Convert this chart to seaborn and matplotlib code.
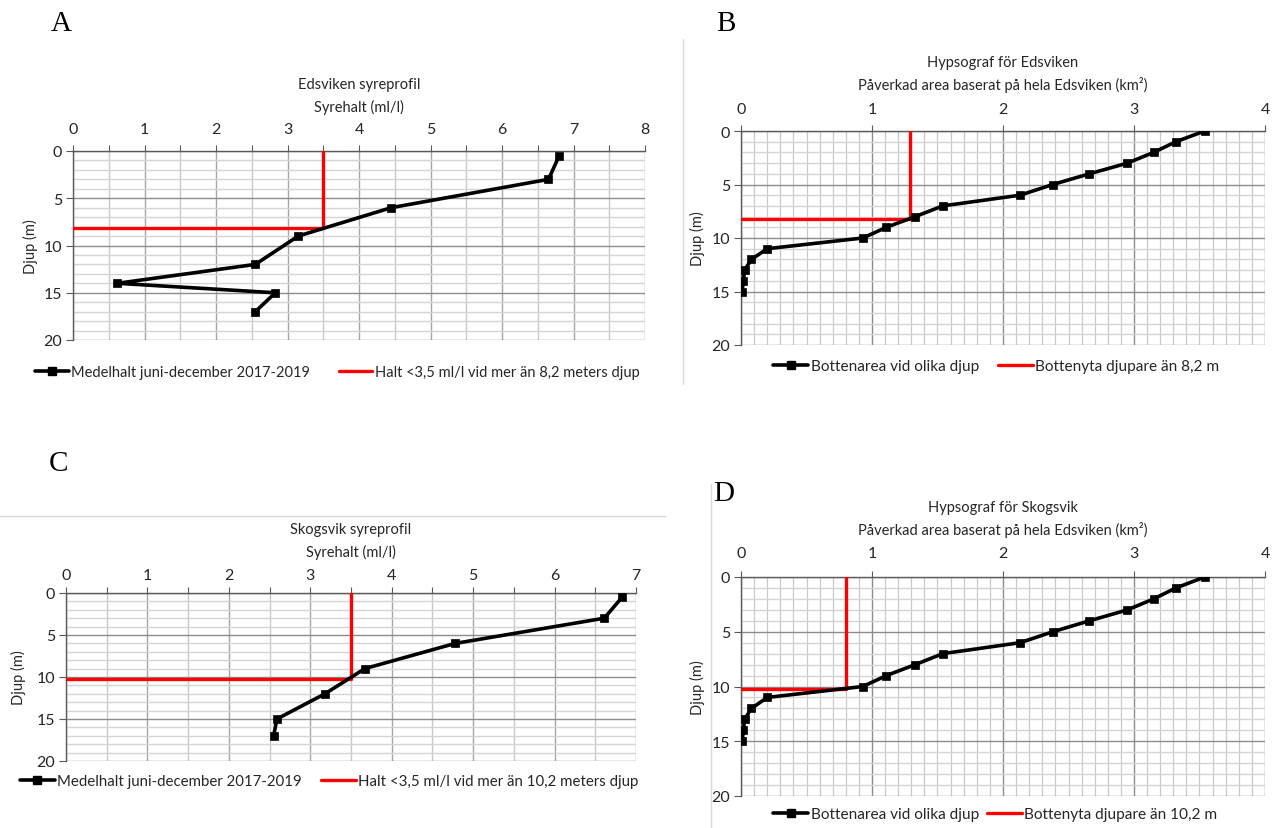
import seaborn as sns
import matplotlib.pyplot as plt
from matplotlib.lines import Line2D
from matplotlib.ticker import MultipleLocator

W, H = 1274, 829

# A: Edsviken syreprofil (syrehalt ml/l vs djup m)
eds_depth = [0.5, 3, 6, 9, 12, 14, 15, 17]
eds_oxygen = [6.8, 6.65, 4.45, 3.15, 2.55, 0.62, 2.83, 2.55]

# C: Skogsvik syreprofil
sko_depth = [0.5, 3, 6, 9, 12, 15, 17]
sko_oxygen = [6.83, 6.61, 4.78, 3.67, 3.18, 2.59, 2.55]

# B / D: hypsograf (bottenarea km2 vs djup m)
hyps_depth = [0, 1, 2, 3, 4, 5, 6, 7, 8, 9, 10, 11, 12, 13, 14, 15]
hyps_area = [3.54, 3.32, 3.15, 2.95, 2.66, 2.38, 2.13, 1.54, 1.33, 1.11,
             0.93, 0.20, 0.08, 0.027, 0.019, 0.008]

# red threshold lines
eds_limit = (3.5, 8.2)
eds_area_limit = (1.29, 8.2)
sko_limit = (3.5, 10.2)
sko_area_limit = (0.80, 10.2)

sns.set_theme(style='white')
plt.rcParams['font.family'] = ['Lato', 'DejaVu Sans']

TXT = '#262626'


def px(x, y):
    return x / W, 1 - y / H


def make_panel(fig, box, x, y, limit, xmax, xminor, oxygen_style, titles,
               title_ys, tick_pad, ylabel_x, legend_pos, labels, colspace,
               legend_size):
    l, t, r, b = box
    ax = fig.add_axes([l / W, 1 - b / H, (r - l) / W, (b - t) / H])
    sns.lineplot(x=x, y=y, sort=False, estimator=None, color='black',
                 lw=2.6, marker='s', markersize=6, markeredgecolor='black',
                 markeredgewidth=0.5, ax=ax, zorder=4)
    lx, ly = limit
    ax.plot([0, lx, lx], [ly, ly, 0], color='#ff0000', lw=2.4, zorder=3)

    ax.set_xlim(0, xmax)
    ax.set_ylim(20, 0)
    ax.xaxis.tick_top()
    ax.xaxis.set_major_locator(MultipleLocator(1))
    ax.xaxis.set_minor_locator(MultipleLocator(xminor))
    ax.yaxis.set_major_locator(MultipleLocator(5))
    ax.yaxis.set_minor_locator(MultipleLocator(1))

    if oxygen_style:
        ax.grid(which='major', axis='x', color='#a6a6a6', lw=1.0)
        ax.grid(which='minor', axis='x', color='#c8c8c8', lw=1.0)
        ax.tick_params(axis='x', which='minor', top=True, length=4,
                       width=0.8, color='#595959', direction='out')
    else:
        ax.grid(which='major', axis='x', color='#8c8c8c', lw=1.0)
        ax.grid(which='minor', axis='x', color='#c8c8c8', lw=0.9)
        ax.tick_params(axis='x', which='minor', top=False, length=0)
    ax.grid(which='major', axis='y', color='#8c8c8c', lw=1.0)
    ax.grid(which='minor', axis='y', color='#d4d4d4', lw=1.0)
    ax.set_axisbelow(True)

    ax.tick_params(axis='x', which='major', top=True, bottom=False,
                   length=4, width=0.8, color='#595959', direction='out',
                   pad=tick_pad, labelsize=11.5, labelcolor=TXT)
    ax.tick_params(axis='y', which='major', left=True, length=5, width=0.8,
                   color='#595959', direction='out', pad=3, labelsize=11.5,
                   labelcolor=TXT)
    ax.tick_params(axis='y', which='minor', left=False)

    for side in ['right', 'bottom']:
        ax.spines[side].set_visible(False)
    for side in ['left', 'top']:
        ax.spines[side].set_color('#595959')
        ax.spines[side].set_linewidth(1.0)
    ax.set_xlabel('')
    ax.set_ylabel('')

    cx = (l + r) / 2
    for txt, ty in zip(titles, title_ys):
        fig.text(*px(cx, ty), txt, ha='center', va='center', fontsize=10.5,
                 color=TXT)
    fig.text(*px(ylabel_x, (t + b) / 2), 'Djup (m)', rotation=90,
             ha='center', va='center', fontsize=10.5, color=TXT)

    handles = [
        Line2D([], [], color='black', lw=2.6, marker='s', markersize=6,
               label=labels[0]),
        Line2D([], [], color='#ff0000', lw=2.4, label=labels[1]),
    ]
    leg = ax.legend(handles=handles, loc='center left',
                    bbox_to_anchor=px(*legend_pos),
                    bbox_transform=fig.transFigure, ncol=2, frameon=False,
                    handlelength=2.3, handletextpad=0.15,
                    columnspacing=colspace, borderaxespad=0, borderpad=0,
                    prop={'size': legend_size})
    for t_ in leg.get_texts():
        t_.set_color(TXT)
    return ax


fig = plt.figure(figsize=(W / 100, H / 100), dpi=100)

make_panel(fig, (73, 152, 645, 341), eds_oxygen, eds_depth, eds_limit, 8,
           0.5, True, ['Edsviken syreprofil', 'Syrehalt (ml/l)'], [85, 107],
           7, 30, (35, 373),
           ['Medelhalt juni-december 2017-2019',
            'Halt <3,5 ml/l vid mer än 8,2 meters djup'], 2.0, 10.5)

make_panel(fig, (741, 132, 1265, 346), hyps_area, hyps_depth, eds_area_limit,
           4, 0.1, False,
           ['Hypsograf för Edsviken',
            'Påverkad area baserat på hela Edsviken (km²)'], [63, 85],
           7, 697, (773, 367),
           ['Bottenarea vid olika djup', 'Bottenyta djupare än 8,2 m'], 1.2,
           11.1)

make_panel(fig, (66, 594, 636, 762), sko_oxygen, sko_depth, sko_limit, 7,
           0.5, True, ['Skogsvik syreprofil', 'Syrehalt (ml/l)'], [530, 552],
           4, 18, (20, 782),
           ['Medelhalt juni-december 2017-2019',
            'Halt <3,5 ml/l vid mer än 10,2 meters djup'], 1.3, 10.8)

make_panel(fig, (741, 578, 1265, 797), hyps_area, hyps_depth, sko_area_limit,
           4, 0.1, False,
           ['Hypsograf för Skogsvik',
            'Påverkad area baserat på hela Edsviken (km²)'], [508, 530],
           8, 697, (773, 815),
           ['Bottenarea vid olika djup', 'Bottenyta djupare än 10,2 m'], 0.5,
           11.1)

# panel letters
for letter, (lx, ly) in zip('ABCD', [(61, 24), (726, 24), (59, 464), (724, 494)]):
    fig.text(*px(lx, ly), letter, ha='center', va='center', fontsize=21,
             family='Liberation Serif', color='black')

# chart-area borders from the original layout
for (x0, y0), (x1, y1) in [((683, 40), (683, 385)), ((0, 517), (665, 517)),
                           ((711, 485), (711, 829))]:
    fig.add_artist(Line2D([x0 / W, x1 / W], [1 - y0 / H, 1 - y1 / H],
                          color='#d9d9d9', lw=1, transform=fig.transFigure))

fig.savefig('out.png', dpi=100)
